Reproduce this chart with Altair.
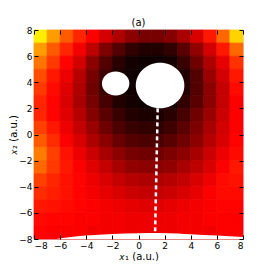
import altair as alt
import pandas as pd

# cell centres of the colour map (a.u.)
x_centers = [-7.5, -6.5, -5.5, -4.5, -3.5, -2.5, -1.5, -0.5, 0.5, 1.5, 2.5, 3.5, 4.5, 5.5, 6.5, 7.5]
y_centers = [7.5, 6.5, 5.5, 4.5, 3.5, 2.5, 1.5, 0.5, -0.5, -1.5, -2.5, -3.5, -4.5, -5.5, -6.5, -7.5]

# normalised colour values (0 = black ... 1 = white in the "hot" map), one row per y
row_p7_5 = [0.72, 0.60, 0.50, 0.42, 0.36, 0.30, 0.25, 0.20, 0.17, 0.17, 0.19, 0.24, 0.31, 0.40, 0.52, 0.68]
row_p6_5 = [0.60, 0.50, 0.42, 0.35, 0.27, 0.18, 0.12, 0.07, 0.05, 0.05, 0.07, 0.13, 0.21, 0.30, 0.40, 0.52]
row_p5_5 = [0.54, 0.45, 0.37, 0.30, 0.20, 0.12, 0.06, 0.03, 0.02, 0.02, 0.03, 0.08, 0.16, 0.25, 0.33, 0.44]
row_p4_5 = [0.48, 0.40, 0.34, 0.26, 0.17, 0.09, 0.04, 0.02, 0.01, 0.01, 0.01, 0.05, 0.12, 0.22, 0.30, 0.40]
row_p3_5 = [0.45, 0.38, 0.32, 0.25, 0.16, 0.08, 0.04, 0.02, 0.01, 0.01, 0.01, 0.05, 0.12, 0.20, 0.28, 0.38]
row_p2_5 = [0.42, 0.37, 0.31, 0.24, 0.17, 0.10, 0.05, 0.03, 0.02, 0.02, 0.03, 0.07, 0.13, 0.20, 0.28, 0.36]
row_p1_5 = [0.42, 0.37, 0.32, 0.26, 0.19, 0.13, 0.08, 0.05, 0.04, 0.04, 0.06, 0.10, 0.16, 0.22, 0.29, 0.36]
row_p0_5 = [0.46, 0.40, 0.34, 0.28, 0.22, 0.16, 0.11, 0.08, 0.07, 0.07, 0.09, 0.13, 0.18, 0.24, 0.30, 0.36]
row_m0_5 = [0.50, 0.43, 0.36, 0.31, 0.25, 0.20, 0.15, 0.12, 0.11, 0.11, 0.13, 0.16, 0.20, 0.26, 0.31, 0.37]
row_m1_5 = [0.55, 0.46, 0.39, 0.34, 0.29, 0.24, 0.20, 0.17, 0.16, 0.16, 0.18, 0.20, 0.24, 0.29, 0.34, 0.38]
row_m2_5 = [0.52, 0.45, 0.40, 0.36, 0.32, 0.28, 0.24, 0.21, 0.20, 0.20, 0.21, 0.24, 0.27, 0.31, 0.36, 0.40]
row_m3_5 = [0.46, 0.42, 0.39, 0.37, 0.34, 0.31, 0.28, 0.26, 0.25, 0.25, 0.26, 0.28, 0.31, 0.34, 0.38, 0.39]
row_m4_5 = [0.43, 0.41, 0.39, 0.37, 0.35, 0.33, 0.31, 0.29, 0.28, 0.28, 0.29, 0.31, 0.33, 0.36, 0.38, 0.38]
row_m5_5 = [0.40, 0.39, 0.38, 0.37, 0.36, 0.35, 0.34, 0.33, 0.32, 0.32, 0.33, 0.34, 0.35, 0.36, 0.37, 0.37]
row_m6_5 = [0.38, 0.37, 0.37, 0.36, 0.36, 0.35, 0.35, 0.34, 0.34, 0.34, 0.34, 0.35, 0.35, 0.36, 0.36, 0.36]
row_m7_5 = [0.37, 0.36, 0.36, 0.36, 0.35, 0.35, 0.35, 0.34, 0.34, 0.34, 0.34, 0.35, 0.35, 0.35, 0.36, 0.36]

# white (excluded) blobs: centre, full width and height in a.u.
blob_x = [-1.75, 1.65]
blob_y = [3.9, 3.75]
blob_w = [2.1, 3.72]
blob_h = [1.84, 3.49]

# white region along the lower edge (upper boundary)
edge_x = [-6.3, -5.0, -4.0, -2.0, 0.0, 1.5, 3.0, 4.0, 6.0, 8.0]
edge_y = [-8.0, -7.82, -7.74, -7.62, -7.56, -7.54, -7.58, -7.64, -7.74, -7.84]

# dotted path
path_x = [1.47, 1.27]
path_y = [2.0, -7.55]

ticks = [-8, -6, -4, -2, 0, 2, 4, 6, 8]

rows = [row_p7_5, row_p6_5, row_p5_5, row_p4_5, row_p3_5, row_p2_5, row_p1_5, row_p0_5,
        row_m0_5, row_m1_5, row_m2_5, row_m3_5, row_m4_5, row_m5_5, row_m6_5, row_m7_5]

W = 209
H = 209
PX_PER_UNIT = W / 16.0

cells = []
for yc, row in zip(y_centers, rows):
    for xc, v in zip(x_centers, row):
        cells.append({"x": xc - 0.5, "x2": xc + 0.5, "y": yc - 0.5, "y2": yc + 0.5, "v": v})
cells = pd.DataFrame(cells)

blobs = pd.DataFrame({
    "x": blob_x, "y": blob_y,
    "size": [(w * PX_PER_UNIT) ** 2 for w in blob_w],
    "shape": [f"M-1,0A1,{h / w:.3f},0,1,1,1,0A1,{h / w:.3f},0,1,1,-1,0Z" for w, h in zip(blob_w, blob_h)],
})
edge = pd.DataFrame({"x": edge_x, "y": edge_y, "y2": [-8.0] * len(edge_x)})
path = pd.DataFrame({"x": path_x, "y": path_y, "o": list(range(len(path_x)))})

FONT = "DejaVu Sans"
xscale = alt.Scale(domain=[-8, 8], nice=False, zero=False)
yscale = alt.Scale(domain=[-8, 8], nice=False, zero=False)
hot = alt.Scale(domain=[0, 0.365, 0.746, 1.0],
                range=["#000000", "#ff0000", "#ffff00", "#ffffff"],
                interpolate="rgb", clamp=True)

common_axis = dict(values=ticks, tickSize=4, offset=-4, domain=False, grid=False,
                   tickColor="#000000", tickWidth=1, zindex=1,
                   labelFont=FONT, labelFontSize=9, labelColor="#000000",
                   titleFont=FONT, titleFontSize=10, titleFontWeight="normal", titleColor="#000000")

heat = alt.Chart(cells).mark_rect(strokeWidth=0.8).encode(
    x=alt.X("x:Q", scale=xscale,
            axis=alt.Axis(orient="bottom", title="𝑥₁ (a.u.)", labelPadding=2, titlePadding=1, **common_axis)),
    x2="x2:Q",
    y=alt.Y("y:Q", scale=yscale,
            axis=alt.Axis(orient="left", title="𝑥₂ (a.u.)", labelPadding=2, titlePadding=0, **common_axis)),
    y2="y2:Q",
    color=alt.Color("v:Q", legend=None, scale=hot),
    stroke=alt.Stroke("v:Q", legend=None, scale=hot),
)

opp_axis = dict(values=ticks, tickSize=4, offset=-4, domain=False, grid=False, labels=False,
                title=None, tickColor="#000000", tickWidth=1, zindex=1)

edge_layer = alt.Chart(edge).mark_area(color="#ffffff", opacity=1, interpolate="monotone").encode(
    x=alt.X("x:Q", scale=xscale, axis=alt.Axis(orient="top", **opp_axis)),
    y=alt.Y("y:Q", scale=yscale, axis=alt.Axis(orient="right", **opp_axis)),
    y2="y2:Q",
)

blob_layer = alt.Chart(blobs).mark_point(filled=True, color="#ffffff", opacity=1, strokeWidth=0).encode(
    x=alt.X("x:Q", scale=xscale, axis=None),
    y=alt.Y("y:Q", scale=yscale, axis=None),
    size=alt.Size("size:Q", scale=None, legend=None),
    shape=alt.Shape("shape:N", scale=None, legend=None),
)

path_layer = alt.Chart(path).mark_line(color="#ffffff", strokeWidth=2.5, strokeDash=[4, 3]).encode(
    x=alt.X("x:Q", scale=xscale, axis=None),
    y=alt.Y("y:Q", scale=yscale, axis=None),
    order="o:Q",
)

chart = alt.layer(heat, edge_layer, blob_layer, path_layer).resolve_axis(
    x="independent", y="independent"
).properties(
    width=W, height=H,
    title=alt.TitleParams("(a)", font=FONT, fontSize=10, fontWeight="normal", color="#000000",
                          offset=1, dy=3),
    autosize=alt.AutoSizeParams(type="none"),
    padding={"left": 26, "top": 22, "right": 19, "bottom": 22},
).configure_view(stroke="#000000", strokeWidth=1).configure(background="#ffffff")

chart.save("out.html", embed_options={"renderer": "svg", "actions": False})
